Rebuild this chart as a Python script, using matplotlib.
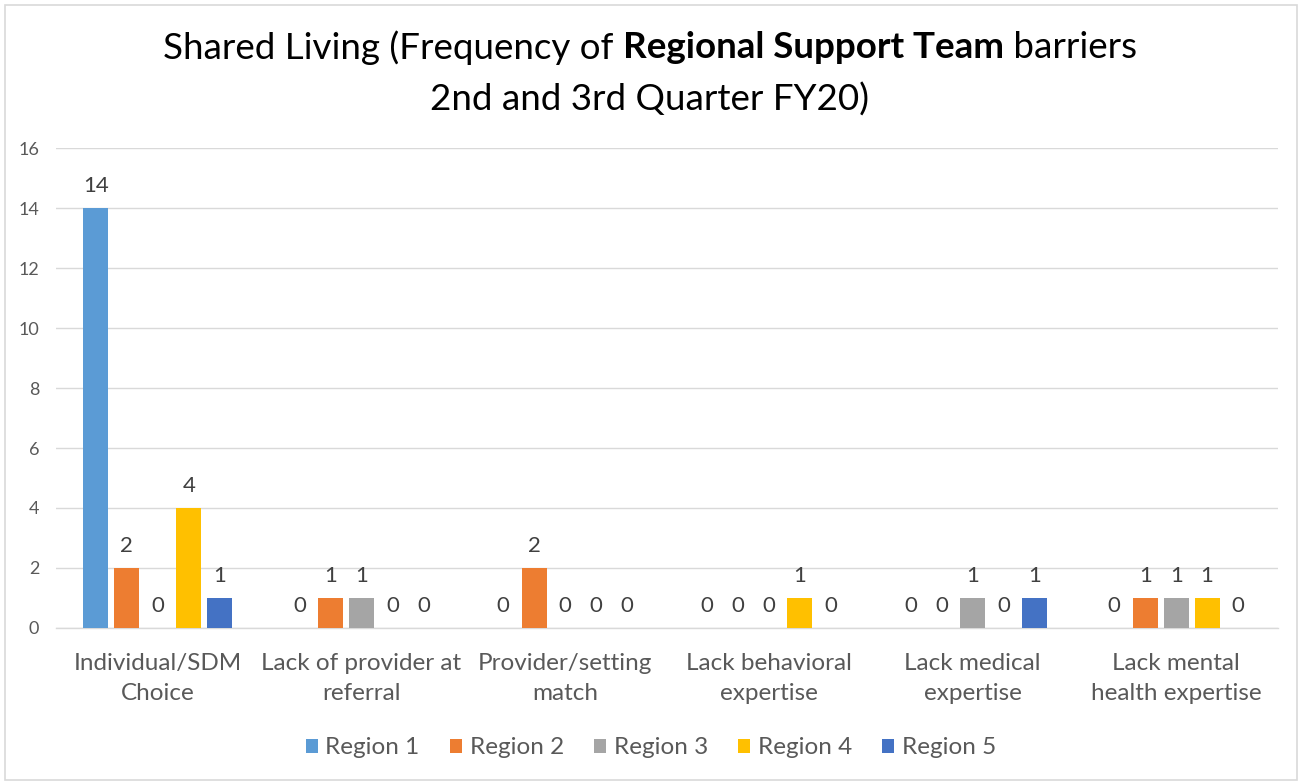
import matplotlib
matplotlib.use("Agg")
import matplotlib.pyplot as plt
from matplotlib.patches import Rectangle
import numpy as np

categories = [
    "Individual/SDM\nChoice",
    "Lack of provider at\nreferral",
    "Provider/setting\nmatch",
    "Lack behavioral\nexpertise",
    "Lack medical\nexpertise",
    "Lack mental\nhealth expertise",
]
region_names = ["Region 1", "Region 2", "Region 3", "Region 4", "Region 5"]
region_1 = [14, 0, 0, 0, 0, 0]
region_2 = [2, 1, 2, 0, 0, 1]
region_3 = [0, 1, 0, 0, 1, 1]
region_4 = [4, 0, 0, 1, 0, 1]
region_5 = [1, 0, 0, 0, 1, 0]
series = [region_1, region_2, region_3, region_4, region_5]
colors = ["#5B9BD5", "#ED7D31", "#A5A5A5", "#FFC000", "#4472C4"]
y_ticks = [0, 2, 4, 6, 8, 10, 12, 14, 16]

FONT = "Lato"
plt.rcParams["font.family"] = [FONT, "DejaVu Sans"]

W, H = 1302, 783
fig = plt.figure(figsize=(W / 100, H / 100), dpi=100)
fig.patch.set_facecolor("white")

# outer chart border
fig.add_artist(Rectangle((5 / W, 3 / H), 1292 / W, 775 / H, transform=fig.transFigure,
                         fill=False, edgecolor="#D9D9D9", linewidth=1.2))

ax = fig.add_axes([56 / W, 1 - 628 / H, (1278 - 56) / W, (628 - 148) / H])
x = np.arange(len(categories))
slot = 0.152
bw = 0.123
for i, (vals, c, name) in enumerate(zip(series, colors, region_names)):
    pos = x + (i - 2) * slot
    bars = ax.bar(pos, vals, width=bw, color=c, label=name, zorder=3)
    ax.bar_label(bars, labels=[str(v) for v in vals], padding=9,
                 fontsize=16, color="#404040")

ax.set_xlim(-0.5, len(categories) - 0.5)
ax.set_ylim(0, 16)
ax.set_yticks(y_ticks)
ax.set_yticklabels([str(t) for t in y_ticks], fontsize=13, color="#595959")
ax.set_xticks(x)
ax.set_xticklabels(categories, fontsize=17.5, color="#595959", linespacing=1.55)
ax.tick_params(axis="both", length=0)
ax.tick_params(axis="y", pad=12)
ax.tick_params(axis="x", pad=18)
ax.grid(axis="y", color="#D9D9D9", linewidth=1.0, zorder=0)
for s in ["top", "right", "left"]:
    ax.spines[s].set_visible(False)
ax.spines["bottom"].set_color("#D9D9D9")
ax.spines["bottom"].set_linewidth(1.0)

# legend
leg = fig.legend(loc="center", bbox_to_anchor=(0.5, 1 - 748 / H), ncol=5, frameon=False,
                 fontsize=17.5, handlelength=0.5, handleheight=0.5, handletextpad=0.3,
                 columnspacing=1.25)
for t in leg.get_texts():
    t.set_color("#595959")

# title with a bold middle phrase
fs_title = 26.5
renderer = fig.canvas.get_renderer()
parts = [("Shared Living (Frequency of ", "normal"),
         ("Regional Support Team", "bold"),
         (" barriers", "normal")]
widths = []
tmp = []
for s, w in parts:
    t = fig.text(0, 0, s, fontsize=fs_title, fontweight=w)
    bb = t.get_window_extent(renderer)
    widths.append(bb.width)
    tmp.append(t)
for t in tmp:
    t.remove()
total = sum(widths)
xpos = 650 - total / 2
y1 = 1 - 48 / H
for (s, w), wd in zip(parts, widths):
    fig.text(xpos / W, y1, s, fontsize=fs_title, fontweight=w, color="#000000",
             ha="left", va="center")
    xpos += wd
fig.text(650 / W, 1 - 100 / H, "2nd and 3rd Quarter FY20)", fontsize=fs_title,
         color="#000000", ha="center", va="center")

fig.savefig("out.png", dpi=100)
